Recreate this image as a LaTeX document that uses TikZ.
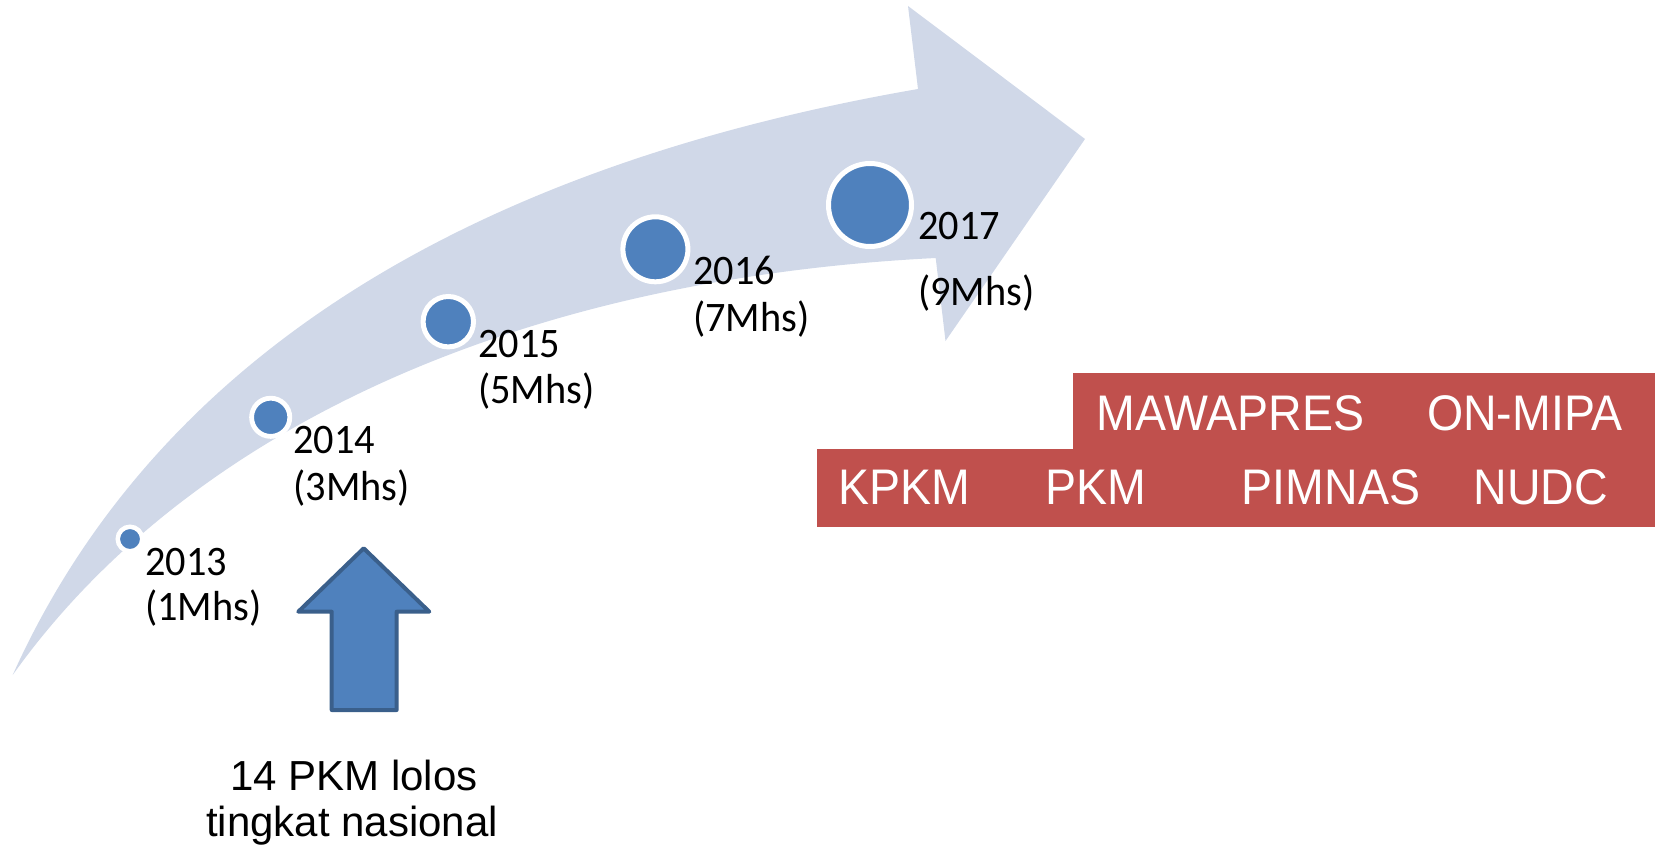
\documentclass[tikz,border=0pt]{standalone}
\usepackage{fontspec}
\newfontfamily\yearfont[FakeStretch=0.96]{Carlito}
\newfontfamily\arialfont{Liberation Sans}
\newfontfamily\boxfont[FakeStretch=0.93]{Liberation Sans}
\definecolor{band}{HTML}{D0D8E8}
\definecolor{dotblue}{HTML}{4F81BD}
\definecolor{edgeblue}{HTML}{3A5F8B}
\definecolor{boxred}{HTML}{C0504D}
\tikzset{
  dot/.style={circle, fill=dotblue, draw=white, inner sep=0pt, outer sep=0pt},
  yearlbl/.style={anchor=base west, inner sep=0pt, font=\yearfont\fontsize{42}{46}\selectfont},
  boxlbl/.style={anchor=base west, inner sep=0pt, text=white, font=\boxfont\fontsize{50}{55}\selectfont},
  notelbl/.style={anchor=base, inner sep=0pt, font=\arialfont\fontsize{42}{46}\selectfont}
}
\begin{document}
\begin{tikzpicture}[x=1pt,y=-1pt]
\useasboundingbox (0,0) rectangle (1660,853);
% big curved arrow
\fill[band] (12.7,675) .. controls (150,370) and (450,170) .. (918,89)
  -- (908,6) -- (1085,139) -- (945.5,341) -- (935.7,258)
  .. controls (500,280) and (180,440) .. (12.7,675) -- cycle;
% dots
\node[dot, minimum size=24.5pt, line width=4.5pt] (d13) at (130,539) {};
\node[dot, minimum size=38.2pt, line width=4.8pt] (d14) at (270.7,417.3) {};
\node[dot, minimum size=50.4pt, line width=5pt] (d15) at (448.3,321.7) {};
\node[dot, minimum size=65pt, line width=5pt] (d16) at (655.4,249.3) {};
\node[dot, minimum size=83pt, line width=5pt] (d17) at (870,205) {};
% year labels
\node[yearlbl] (y13) at (145,575) {2013};
\node[yearlbl] (m13) at (145,620.7) {(1Mhs)};
\node[yearlbl] (y14) at (293.3,453.3) {2014};
\node[yearlbl] (m14) at (293.3,500) {(3Mhs)};
\node[yearlbl] (y15) at (478,357) {2015};
\node[yearlbl] (m15) at (478,403) {(5Mhs)};
\node[yearlbl] (y16) at (693,284.3) {2016};
\node[yearlbl] (m16) at (693,331) {(7Mhs)};
\node[yearlbl] (y17) at (918,240) {2017};
\node[yearlbl] (m17) at (918,305) {(9Mhs)};
% red boxes
\fill[boxred] (816.5,449) rectangle (1654.6,526.7);
\fill[boxred] (1073.2,372.7) rectangle (1654.6,449.5);
\node[boxlbl] (mawa) at (1096.2,430) {MAWAPRES};
\node[boxlbl] (onmipa) at (1427,430) {ON-MIPA};
\node[boxlbl] (kpkm) at (838.4,504.3) {KPKM};
\node[boxlbl] (pkm) at (1045.2,504.3) {PKM};
\node[boxlbl] (pimnas) at (1241.6,504.3) {PIMNAS};
\node[boxlbl] (nudc) at (1473.6,504.3) {NUDC};
% blue up arrow
\filldraw[fill=dotblue, draw=edgeblue, line width=4pt, line join=round]
  (363.7,548.3) -- (429.3,611.7) -- (396.7,611.7) -- (396.7,710)
  -- (331.7,710) -- (331.7,611.7) -- (298.3,611.7) -- cycle;
% note text
\node[notelbl] (note1) at (354,790.7) {14 PKM lolos};
\node[notelbl] (note2) at (352,836) {tingkat nasional};
\end{tikzpicture}
\end{document}
